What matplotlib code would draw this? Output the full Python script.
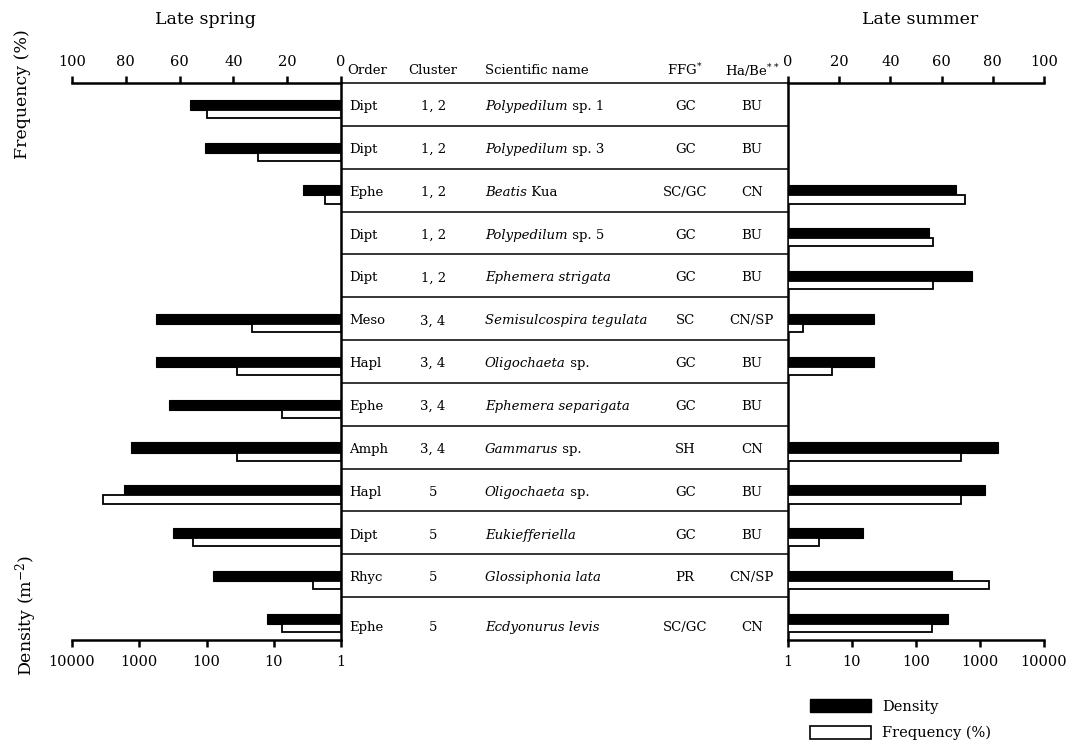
import numpy as np
import matplotlib
matplotlib.use("Agg")
import matplotlib.pyplot as plt
from matplotlib.patches import Patch
from matplotlib.ticker import NullLocator

plt.rcParams['font.family'] = ['DejaVu Serif']
plt.rcParams['mathtext.fontset'] = 'dejavuserif'

# ---- data ----
orders = ["Dipt", "Dipt", "Ephe", "Dipt", "Dipt", "Meso", "Hapl", "Ephe",
          "Amph", "Hapl", "Dipt", "Rhyc", "Ephe"]
clusters = ["1, 2", "1, 2", "1, 2", "1, 2", "1, 2", "3, 4", "3, 4", "3, 4",
            "3, 4", "5", "5", "5", "5"]
name_italic = ["Polypedilum", "Polypedilum", "Beatis", "Polypedilum",
               "Ephemera strigata", "Semisulcospira tegulata", "Oligochaeta",
               "Ephemera separigata", "Gammarus", "Oligochaeta",
               "Eukiefferiella", "Glossiphonia lata", "Ecdyonurus levis"]
name_roman = [" sp. 1", " sp. 3", " Kua", " sp. 5", "", "", " sp.", "",
              " sp.", " sp.", "", "", ""]
ffg = ["GC", "GC", "SC/GC", "GC", "GC", "SC", "GC", "GC", "SH", "GC", "GC",
       "PR", "SC/GC"]
habe = ["BU", "BU", "CN", "BU", "BU", "CN/SP", "BU", "BU", "CN", "BU", "BU",
        "CN/SP", "CN"]

spring_density = [174, 107, 3.7, None, None, 570, 570, 360, 1320, 1700, 314, 80, 12.4]
spring_freq = [50, 31, 6, None, None, 33, 38.5, 22, 38.5, 88.5, 55, 10.5, 21.8]
summer_density = [None, None, 420, 160, 760, 22, 22, None, 1900, 1180, 14.8, 370, 320]
summer_freq = [None, None, 69, 56.7, 56.7, 6, 17, None, 67.5, 67.5, 12, 78.5, 56.4]

density_ticks = [1, 10, 100, 1000, 10000]
freq_ticks = [0, 20, 40, 60, 80, 100]

# ---- layout ----
W, H = 1072, 747
fig = plt.figure(figsize=(W / 100, H / 100), dpi=100)

y_top, y_bot = 83, 640
b = 1 - y_bot / H
h = (y_bot - y_top) / H
n = len(orders)
centers = np.arange(n) + 0.5

LW_AX = 1.8
TICKFS = 10.5


def idx_vals(vals):
    idx = [i for i, v in enumerate(vals) if v is not None]
    return np.array(idx), np.array([vals[i] for i in idx], dtype=float)


def style_axes(ax_d, ax_f, side):
    for ax in (ax_d, ax_f):
        for s in ax.spines.values():
            s.set_visible(False)
            s.set_linewidth(LW_AX)
        ax.set_ylim(n, 0)
        ax.tick_params(axis='y', left=False, right=False, labelleft=False, labelright=False)
    ax_d.spines['bottom'].set_visible(True)
    ax_d.spines[side].set_visible(True)
    ax_f.spines['top'].set_visible(True)
    ax_d.set_xticks(density_ticks)
    ax_d.set_xticklabels([str(t) for t in density_ticks])
    ax_d.xaxis.set_minor_locator(NullLocator())
    ax_f.set_xticks(freq_ticks)
    ax_f.set_xticklabels([str(t) for t in freq_ticks])
    ax_d.tick_params(axis='x', direction='out', length=5, width=LW_AX,
                     labelsize=TICKFS, pad=6)
    ax_f.tick_params(axis='x', direction='out', length=5, width=LW_AX,
                     labelsize=TICKFS, pad=5)


def draw_bars(ax_d, ax_f, dens, freq):
    i, v = idx_vals(dens)
    ax_d.barh(centers[i] + 0.0075, v - 1, left=1, height=0.235,
              color='black', edgecolor='black', linewidth=0.8)
    i, v = idx_vals(freq)
    ax_f.barh(centers[i] + 0.22, v, left=0, height=0.19,
              color='white', edgecolor='black', linewidth=1.3)


# left panel (late spring)
axL = fig.add_axes([72 / W, b, (341 - 72) / W, h])
axL.set_xscale('log')
axL.set_xlim(10000, 1)
axLt = axL.twiny()
axLt.set_xlim(100, 0)
draw_bars(axL, axLt, spring_density, spring_freq)
style_axes(axL, axLt, 'right')

# right panel (late summer)
axR = fig.add_axes([788 / W, b, (1044 - 788) / W, h])
axR.set_xscale('log')
axR.set_xlim(1, 10000)
axRt = axR.twiny()
axRt.set_xlim(0, 100)
draw_bars(axR, axRt, summer_density, summer_freq)
style_axes(axR, axRt, 'left')

# middle table
axM = fig.add_axes([341 / W, b, (788 - 341) / W, h])
axM.set_xlim(0, 1)
axM.set_ylim(n, 0)
axM.axis('off')
axM.hlines(np.arange(n), 0, 1, color='black', linewidth=1.1, clip_on=False)

TFS = 9.5
x_order, x_cluster, x_name, x_ffg, x_habe = 0.018, 0.206, 0.322, 0.77, 0.919
hy = -0.3
axM.text(x_order - 0.004, hy, "Order", ha='left', va='center', fontsize=TFS, clip_on=False)
axM.text(x_cluster, hy, "Cluster", ha='center', va='center', fontsize=TFS, clip_on=False)
axM.text(x_name, hy, "Scientific name", ha='left', va='center', fontsize=TFS, clip_on=False)
axM.text(x_ffg, hy, "FFG$^{*}$", ha='center', va='center', fontsize=TFS, clip_on=False)
axM.text(x_habe, hy, "Ha/Be$^{**}$", ha='center', va='center', fontsize=TFS, clip_on=False)

for i in range(n):
    ty = centers[i] + (0.05 if i < n - 1 else 0.2)
    axM.text(x_order, ty, orders[i], ha='left', va='center', fontsize=TFS)
    axM.text(x_cluster, ty, clusters[i], ha='center', va='center', fontsize=TFS)
    t = axM.text(x_name, ty, name_italic[i], ha='left', va='center',
                 fontsize=TFS, style='italic')
    if name_roman[i]:
        axM.annotate(name_roman[i], xy=(1, 0), xycoords=t, ha='left',
                     va='bottom', fontsize=TFS)
    axM.text(x_ffg, ty, ffg[i], ha='center', va='center', fontsize=TFS)
    axM.text(x_habe, ty, habe[i], ha='center', va='center', fontsize=TFS)

# titles and axis labels
fig.text(205 / W, 1 - 20 / H, "Late spring", ha='center', va='center', fontsize=12.5)
fig.text(920 / W, 1 - 20 / H, "Late summer", ha='center', va='center', fontsize=12.5)
fig.text(23 / W, 1 - 94 / H, "Frequency (%)", ha='center', va='center',
         rotation=90, fontsize=12.5)
fig.text(26 / W, 1 - 615 / H, "Density (m$^{-2}$)", ha='center', va='center',
         rotation=90, fontsize=12.5)

# legend
fig.legend(handles=[Patch(facecolor='black', edgecolor='black'),
                    Patch(facecolor='white', edgecolor='black', linewidth=1.2)],
           labels=['Density', 'Frequency (%)'], loc='upper left',
           bbox_to_anchor=(810 / W, 1 - 699 / H), frameon=False,
           handlelength=4.2, handleheight=1.0, fontsize=10.5,
           labelspacing=0.85, handletextpad=0.75, borderaxespad=0,
           borderpad=0)

fig.savefig("out.png", dpi=100)
